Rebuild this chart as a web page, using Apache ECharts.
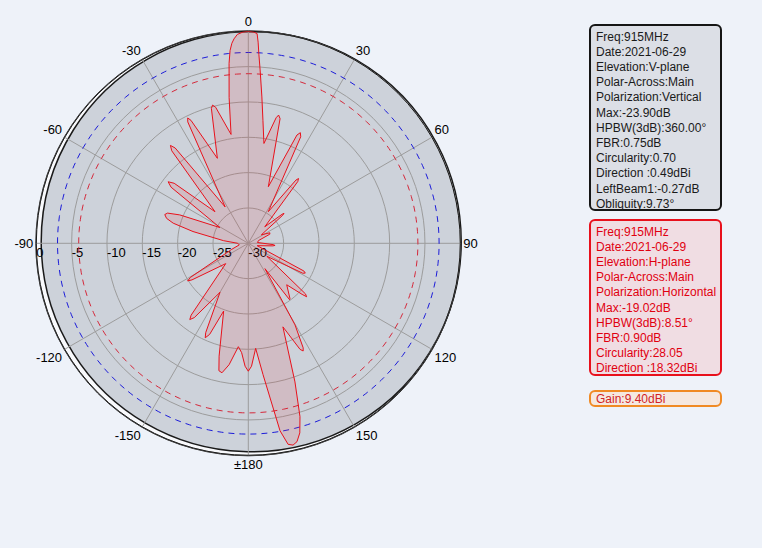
<!DOCTYPE html>
<html>
<head>
<meta charset="utf-8">
<script src="https://cdn.jsdelivr.net/npm/echarts@6/dist/echarts.min.js"></script>
<style>
html,body{margin:0;padding:0;background:#eef2f9;}
#c{width:762px;height:548px;}
</style>
</head>
<body>
<div id="c"></div>
<script>
// Pattern: angle in degrees (clockwise from top, -180..180) and normalized gain (dB)
const angles = [-180,-178.5,-176.5,-174.5,-171,-168.5,-167,-165.5,-160,-157,-155.5,-154.5,-150,-144,-142.5,-141.5,-132,-123,-121.8,-120.5,-110,-100,-90,-84,-78,-75,-73,-71,-69.5,-67.5,-61,-54,-52.5,-51,-46.5,-39.6,-38.5,-37.5,-32.5,-26.5,-25.8,-25,-20,-15.3,-14.5,-13.5,-9,-7.5,-6.1,-5.4,-4.7,-4,-3,-1.5,0,1.5,2.4,2.8,3.2,3.9,5.3,6.8,8.9,12.5,13.3,14.3,19.5,24.2,25.2,26.2,32.3,37,37.8,38.7,45,49.3,50,50.8,57,64,67,75,85,93,94.5,96,105,116.5,117.6,118.8,125,131.5,132.5,133.5,137.2,143,143.8,146.7,150.2,152.3,153,154,157.5,161.4,163.4,164.8,166.2,167.5,168.8,170.4,173.6,176,178.5,180];
const gains  = [-11.9,-12.6,-14.5,-15.3,-12.6,-11.3,-11.5,-13.5,-19.8,-16.0,-15.3,-16.0,-22.0,-17.0,-16.4,-17.0,-25.7,-20.5,-19.9,-20.5,-27.5,-28.7,-28.5,-26.5,-22.0,-19.0,-17.9,-17.5,-17.8,-19.5,-25.4,-16.5,-15.7,-16.5,-23.5,-13.0,-12.3,-13.0,-23.9,-10.8,-10.3,-10.8,-17.2,-10.2,-9.8,-10.2,-14.4,-9.2,-4.4,-2.6,-1.6,-1.0,-0.4,-0.1,0,-0.1,-0.3,-1.5,-3.2,-5.4,-9.2,-12.5,-15.7,-11.8,-11.35,-11.8,-21.5,-13.2,-12.7,-13.2,-24.7,-18.8,-18.4,-18.8,-26.7,-23.7,-23.4,-23.7,-27.8,-26.6,-26.7,-28.5,-28.7,-26.5,-26.2,-26.5,-28.7,-21.2,-20.9,-21.2,-26.8,-19.2,-18.8,-19.5,-22.0,-20.2,-20.1,-25.7,-16.7,-13.3,-12.9,-13.3,-17.2,-9.3,-4.4,-2.2,-1.1,-0.75,-1.0,-3.1,-11.3,-15.1,-12.6,-11.9];

// Reference levels (dashed circles)
const blueLevel = -3;
const redLevel = -6;

// Axis ranges / ticks
const radiusMin = -30, radiusMax = 0, radiusStep = 5;
const angleStep = 30;

// Info boxes
const box1Lines = ["Freq:915MHz","Date:2021-06-29","Elevation:V-plane","Polar-Across:Main","Polarization:Vertical","Max:-23.90dB","HPBW(3dB):360.00°","FBR:0.75dB","Circularity:0.70","Direction :0.49dBi","LeftBeam1:-0.27dB","Obliquity:9.73°"];
const box2Lines = ["Freq:915MHz","Date:2021-06-29","Elevation:H-plane","Polar-Across:Main","Polarization:Horizontal","Max:-19.02dB","HPBW(3dB):8.51°","FBR:0.90dB","Circularity:28.05","Direction :18.32dBi"];
const box3Lines = ["Gain:9.40dBi"];

const FONT = '"Liberation Sans", Arial, sans-serif';
const CX = 248.3, CY = 243.3, R = 212;

// convert display angle (0 top, clockwise) to axis value (axis starts at left)
const toAxis = a => (((a + 90) % 360) + 360) % 360;
let pts = angles.map((a, i) => [gains[i], toAxis(a)]);
pts.sort((p, q) => p[1] - q[1]);
pts.push([pts[0][0], 360]);

const ring = lvl => { const d = []; for (let v = 0; v <= 360; v += 2) d.push([lvl, v]); return d; };

function boxGroup(x, y, w, h, lines, stroke, fill, color) {
  const els = [{
    type: 'rect', z: 5,
    shape: { x: x, y: y, width: w, height: h, r: 5 },
    style: { fill: fill, stroke: stroke, lineWidth: 2 }
  }];
  lines.forEach((t, i) => {
    els.push({
      type: 'text', z: 6,
      x: x + 6, y: y + 11.5 + i * 15.2,
      style: { text: t, fill: color, font: '12px ' + FONT, verticalAlign: 'middle', align: 'left' }
    });
  });
  return els;
}

const chart = echarts.init(document.getElementById('c'), null, { renderer: 'svg', width: 762, height: 548 });
chart.setOption({
  animation: false,
  backgroundColor: '#eef2f9',
  polar: { center: [CX, CY], radius: R },
  angleAxis: {
    type: 'value', min: 0, max: 360, interval: angleStep,
    startAngle: 180, clockwise: true,
    axisLine: { show: true, lineStyle: { color: '#1a1a1a', width: 1 } },
    axisTick: { show: false },
    splitLine: { show: true, lineStyle: { color: '#9c9c9c', width: 1 } },
    axisLabel: {
      margin: 3, fontSize: 13, fontFamily: FONT, color: '#000',
      formatter: v => {
        if (v >= 360) return '';
        let d = v - 90;
        if (d > 180) d -= 360;
        if (d === 180) return '±180';
        return String(d);
      }
    }
  },
  radiusAxis: {
    type: 'value', min: radiusMin, max: radiusMax, interval: radiusStep,
    axisLine: { show: false },
    axisTick: { show: false },
    splitLine: { show: true, lineStyle: { color: '#9c9c9c', width: 1 } },
    axisLabel: {
      show: true, showMinLabel: true, showMaxLabel: true,
      margin: 3, fontSize: 13, fontFamily: FONT, color: '#000',
      align: 'left', verticalAlign: 'top'
    }
  },
  series: [
    {
      type: 'line', coordinateSystem: 'polar', data: ring(blueLevel),
      symbol: 'none', silent: true, z: 2,
      lineStyle: { color: '#1c1cd8', width: 1, type: [6, 5] }
    },
    {
      type: 'line', coordinateSystem: 'polar', data: ring(redLevel),
      symbol: 'none', silent: true, z: 2,
      lineStyle: { color: '#d4283a', width: 1, type: [6, 5] }
    },
    {
      type: 'line', coordinateSystem: 'polar', data: pts,
      symbol: 'none', smooth: false, silent: true, z: 3,
      lineStyle: { color: '#e8111b', width: 1 },
      areaStyle: { color: 'rgba(235,40,50,0.18)', origin: 'start' }
    }
  ],
  graphic: {
    elements: [
      { type: 'circle', z: -20, shape: { cx: CX, cy: CY, r: R + 0.5 },
        style: { fill: '#f8f9fc', stroke: '#1a1a1a', lineWidth: 1 } },
      { type: 'circle', z: -19, shape: { cx: CX + 2.9, cy: CY - 1.6, r: 210 },
        style: { fill: '#cdd2da', stroke: '#1a1a1a', lineWidth: 1.5 } }
    ].concat(
      boxGroup(590, 25, 131, 185, box1Lines, '#151515', '#dcdfe6', '#1a1a1a'),
      boxGroup(590, 220, 131, 155, box2Lines, '#e8101c', '#f0dde3', '#e00010'),
      [{
        type: 'rect', z: 5, shape: { x: 590, y: 391, width: 131, height: 15, r: 5 },
        style: { fill: '#f5e8e0', stroke: '#f08a24', lineWidth: 2 }
      }, {
        type: 'text', z: 6, x: 596, y: 398.5,
        style: { text: box3Lines[0], fill: '#d21f26', font: '12px ' + FONT, verticalAlign: 'middle', align: 'left' }
      }]
    )
  }
});
</script>
</body>
</html>
